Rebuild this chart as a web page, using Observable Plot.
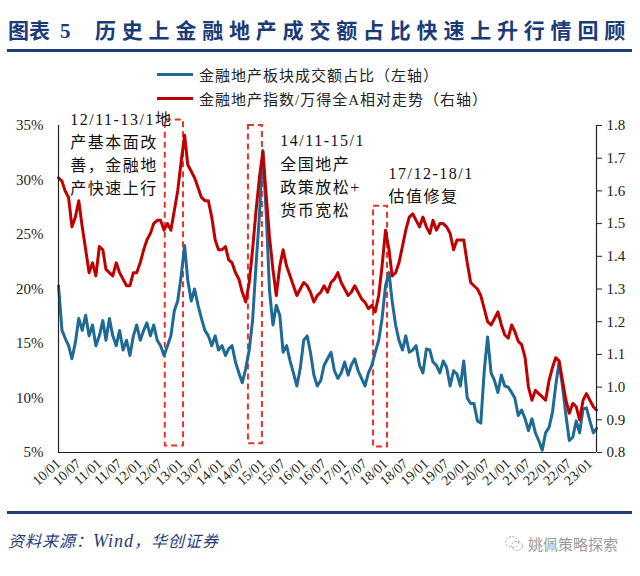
<!DOCTYPE html>
<html><head><meta charset="utf-8">
<script src="https://cdn.jsdelivr.net/npm/d3@7"></script>
<script src="https://cdn.jsdelivr.net/npm/@observablehq/plot@0.6"></script>
<style>
html,body{margin:0;padding:0;background:#fff;}
body{width:640px;height:576px;overflow:hidden;position:relative;font-family:"Liberation Serif","Noto Sans CJK SC",serif;}
.title{position:absolute;top:14px;font-family:"Noto Sans CJK SC",sans-serif;font-weight:700;font-size:21px;color:#1B3A78;white-space:nowrap;}
#t1{left:8px;letter-spacing:0px;}
#t1 .n{margin-left:10px;font-family:"Liberation Serif",serif;}
#t2{left:95px;letter-spacing:5.8px;}
.hr{position:absolute;left:7px;width:625px;height:3px;background:#1F3D7A;}
#legend{position:absolute;left:157px;top:62px;font-size:15px;color:#222;letter-spacing:1px;}
#legend .row{height:24px;display:flex;align-items:center;white-space:nowrap;}
#legend .sw{display:inline-block;width:36px;height:3px;margin-right:6px;}
#chart{position:absolute;left:0;top:100px;}
#source{position:absolute;left:8px;top:528px;font-family:"Noto Sans CJK SC",sans-serif;font-style:italic;font-size:16px;color:#1F3D7A;letter-spacing:1px;}
#source .w{font-family:"Liberation Serif",serif;font-size:18px;}
#mark{position:absolute;left:504px;top:533px;font-family:"Noto Sans CJK SC",sans-serif;font-size:15px;color:#9a9a9a;display:flex;align-items:center;}
</style></head><body>
<div class="title" id="t1">图表<span class="n">5</span></div>
<div class="title" id="t2">历史上金融地产成交额占比快速上升行情回顾</div>
<div class="hr" style="top:49px"></div>
<div id="legend">
  <div class="row"><span class="sw" style="background:#1F6A95"></span>金融地产板块成交额占比（左轴）</div>
  <div class="row"><span class="sw" style="background:#C00000"></span>金融地产指数/万得全A相对走势（右轴）</div>
</div>
<div id="chart"></div>
<div class="hr" style="top:511px"></div>
<div id="source">资料来源：<span class="w">Wind</span>，华创证券</div>
<div id="mark"><svg width="20" height="18" viewBox="0 0 20 18"><ellipse cx="8" cy="7" rx="6.5" ry="5.5" fill="none" stroke="#aaa" stroke-dasharray="2,1.5"/><ellipse cx="13" cy="11" rx="5.5" ry="4.5" fill="none" stroke="#aaa" stroke-dasharray="2,1.5"/></svg><span style="margin-left:4px">姚佩策略探索</span></div>
<script>
// Monthly series, Jan 2010 .. Mar 2023
const seriesStart = "2010-01";
const blueShare = [
 20.3,16.2,15.5,14.8,13.6,15.1,17.3,16.2,17.6,15.7,16.7,14.8,
 15.7,17.1,15.3,17.3,15.7,14.8,16.2,14.4,15.3,13.9,15.7,16.7,
 15.3,16.2,16.9,15.7,16.7,15.3,14.8,13.9,14.8,15.7,18.0,18.9,
 21.2,24.0,20.8,18.9,20.0,18.5,17.3,16.2,15.7,14.8,15.7,14.4,
 14.8,13.9,14.5,14.8,13.3,12.3,11.4,12.7,14.4,17.1,22.2,26.7,
 32.7,26.7,19.9,16.7,18.5,17.6,14.2,14.8,13.4,12.3,11.1,12.7,
 15.3,15.7,14.2,12.1,11.1,11.6,13.0,13.6,14.2,12.5,11.8,12.3,
 13.3,12.1,13.0,13.6,12.5,11.8,11.1,12.3,13.0,14.2,15.3,17.3,
 20.3,21.5,18.9,16.7,15.3,14.4,15.7,14.2,14.4,14.8,13.0,12.3,
 14.5,14.4,13.3,13.0,12.3,13.4,12.8,11.1,12.5,12.2,11.1,13.4,
 10.0,9.5,9.5,7.9,7.7,12.5,15.6,12.3,11.6,10.5,12.1,11.1,
 11.0,10.5,10.0,8.4,8.9,8.1,7.0,8.1,6.8,6.1,5.2,6.8,
 7.3,8.7,11.1,13.3,11.1,8.4,6.1,6.4,7.9,6.8,9.0,9.1,
 7.9,6.8,7.2
];
const redRelative = [
 1.64,1.63,1.60,1.58,1.49,1.52,1.57,1.49,1.42,1.35,1.38,1.34,
 1.43,1.42,1.36,1.35,1.34,1.38,1.35,1.33,1.31,1.31,1.35,1.35,
 1.38,1.42,1.45,1.47,1.50,1.51,1.51,1.48,1.50,1.48,1.54,1.60,
 1.69,1.77,1.68,1.66,1.64,1.61,1.58,1.57,1.57,1.52,1.45,1.42,
 1.42,1.43,1.39,1.38,1.35,1.33,1.29,1.26,1.32,1.42,1.54,1.64,
 1.72,1.58,1.46,1.36,1.28,1.37,1.42,1.37,1.34,1.31,1.28,1.30,
 1.32,1.31,1.29,1.26,1.28,1.29,1.31,1.29,1.32,1.33,1.35,1.32,
 1.30,1.28,1.29,1.31,1.29,1.27,1.26,1.24,1.25,1.23,1.28,1.37,
 1.48,1.42,1.34,1.35,1.38,1.43,1.48,1.52,1.53,1.51,1.49,1.52,
 1.49,1.47,1.51,1.48,1.50,1.50,1.49,1.47,1.42,1.45,1.45,1.45,
 1.38,1.32,1.31,1.30,1.28,1.24,1.20,1.19,1.21,1.23,1.19,1.16,
 1.15,1.19,1.17,1.14,1.13,1.09,1.00,0.96,0.99,0.98,0.97,0.96,
 1.02,1.06,1.09,1.08,1.02,0.96,0.92,0.95,0.94,0.90,0.96,0.98,
 0.96,0.94,0.93
];
const leftTicks = [5,10,15,20,25,30,35];
const rightTicks = [0.8,0.9,1.0,1.1,1.2,1.3,1.4,1.5,1.6,1.7,1.8];
const xTickLabels = ["10/01","10/07","11/01","11/07","12/01","12/07","13/01","13/07","14/01","14/07","15/01","15/07","16/01","16/07","17/01","17/07","18/01","18/07","19/01","19/07","20/01","20/07","21/01","21/07","22/01","22/07","23/01"];
// highlighted periods (dashed boxes), in data units
const boxFrom = ["2012-08-12","2014-08-25","2017-09-16"];
const boxTo = ["2013-01-22","2014-12-28","2018-01-19"];
const boxTop = [35.5,35.0,27.6];
const boxBottom = [5.6,5.8,5.5];
// annotations
const noteDates = ["2010-04-16","2015-06-06","2018-01-28"];
const noteLevels = [36.6,34.6,31.6];
const noteTexts = ["12/11-13/1地\n产基本面改\n善，金融地\n产快速上行","14/11-15/1\n全国地产\n政策放松+\n货币宽松","17/12-18/1\n估值修复"];

const parse = d3.utcParse("%Y-%m-%d");
const t0 = d3.utcParse("%Y-%m")(seriesStart);
const months = blueShare.map((_, i) => d3.utcMonth.offset(t0, i));
const tEnd = months[months.length - 1];
const toLeft = r => 5 + (r - 0.8) * 30;
const blueData = months.map((d, i) => ({date: d, v: blueShare[i]}));
const redData = months.map((d, i) => ({date: d, v: toLeft(redRelative[i])}));
const xTicks = xTickLabels.map(s => d3.utcParse("%y/%m")(s));
const boxes = boxFrom.map((d, i) => ({a: parse(d), b: parse(boxTo[i]), top: boxTop[i], bottom: boxBottom[i]}));
const notes = noteDates.map((d, i) => ({date: parse(d), y: noteLevels[i], text: noteTexts[i]}));

const font = "'Liberation Serif','Noto Sans CJK SC',serif";
const chart = Plot.plot({
  width: 640, height: 405,
  marginTop: 25, marginBottom: 53, marginLeft: 58, marginRight: 44,
  style: {fontFamily: font, fontSize: "15px", color: "#222", background: "transparent", overflow: "visible"},
  x: {type: "utc", domain: [t0, tEnd], label: null},
  y: {domain: [5, 35], label: null},
  marks: [
    Plot.rect(boxes, {x1: "a", x2: "b", y1: "bottom", y2: "top", fill: "none", stroke: "#E8322C", strokeWidth: 2, strokeDasharray: "6,4"}),
    Plot.lineY(blueData, {x: "date", y: "v", stroke: "#1F6A95", strokeWidth: 3, curve: "linear"}),
    Plot.lineY(redData, {x: "date", y: "v", stroke: "#C00000", strokeWidth: 3, curve: "linear"}),
    Plot.ruleY([5], {stroke: "#222", strokeWidth: 1.2}),
    Plot.ruleX([t0, tEnd], {y1: 5, y2: 35, stroke: "#222", strokeWidth: 1.2}),
    Plot.axisY({anchor: "left", ticks: leftTicks, tickFormat: d => d + "%", tickSize: 0, tickPadding: 15, fontSize: 15, label: null}),
    Plot.axisY({anchor: "right", ticks: rightTicks.map(toLeft), tickFormat: d => ((d - 5) / 30 + 0.8).toFixed(1), tickSize: 5, tickPadding: 5, fontSize: 15, label: null}),
    Plot.axisX({ticks: xTicks, tickFormat: d3.utcFormat("%y/%m"), tickRotate: -42, tickSize: 0, tickPadding: 9, fontSize: 14, label: null}),
    Plot.text(notes, {x: "date", y: "y", text: "text", textAnchor: "start", lineAnchor: "top", fontSize: 16, lineHeight: 1.45, fill: "#111"})
  ]
});
d3.select(chart).selectAll("g[aria-label=text] text").attr("letter-spacing", "1.5px");
document.getElementById("chart").appendChild(chart);
</script>
</body></html>
